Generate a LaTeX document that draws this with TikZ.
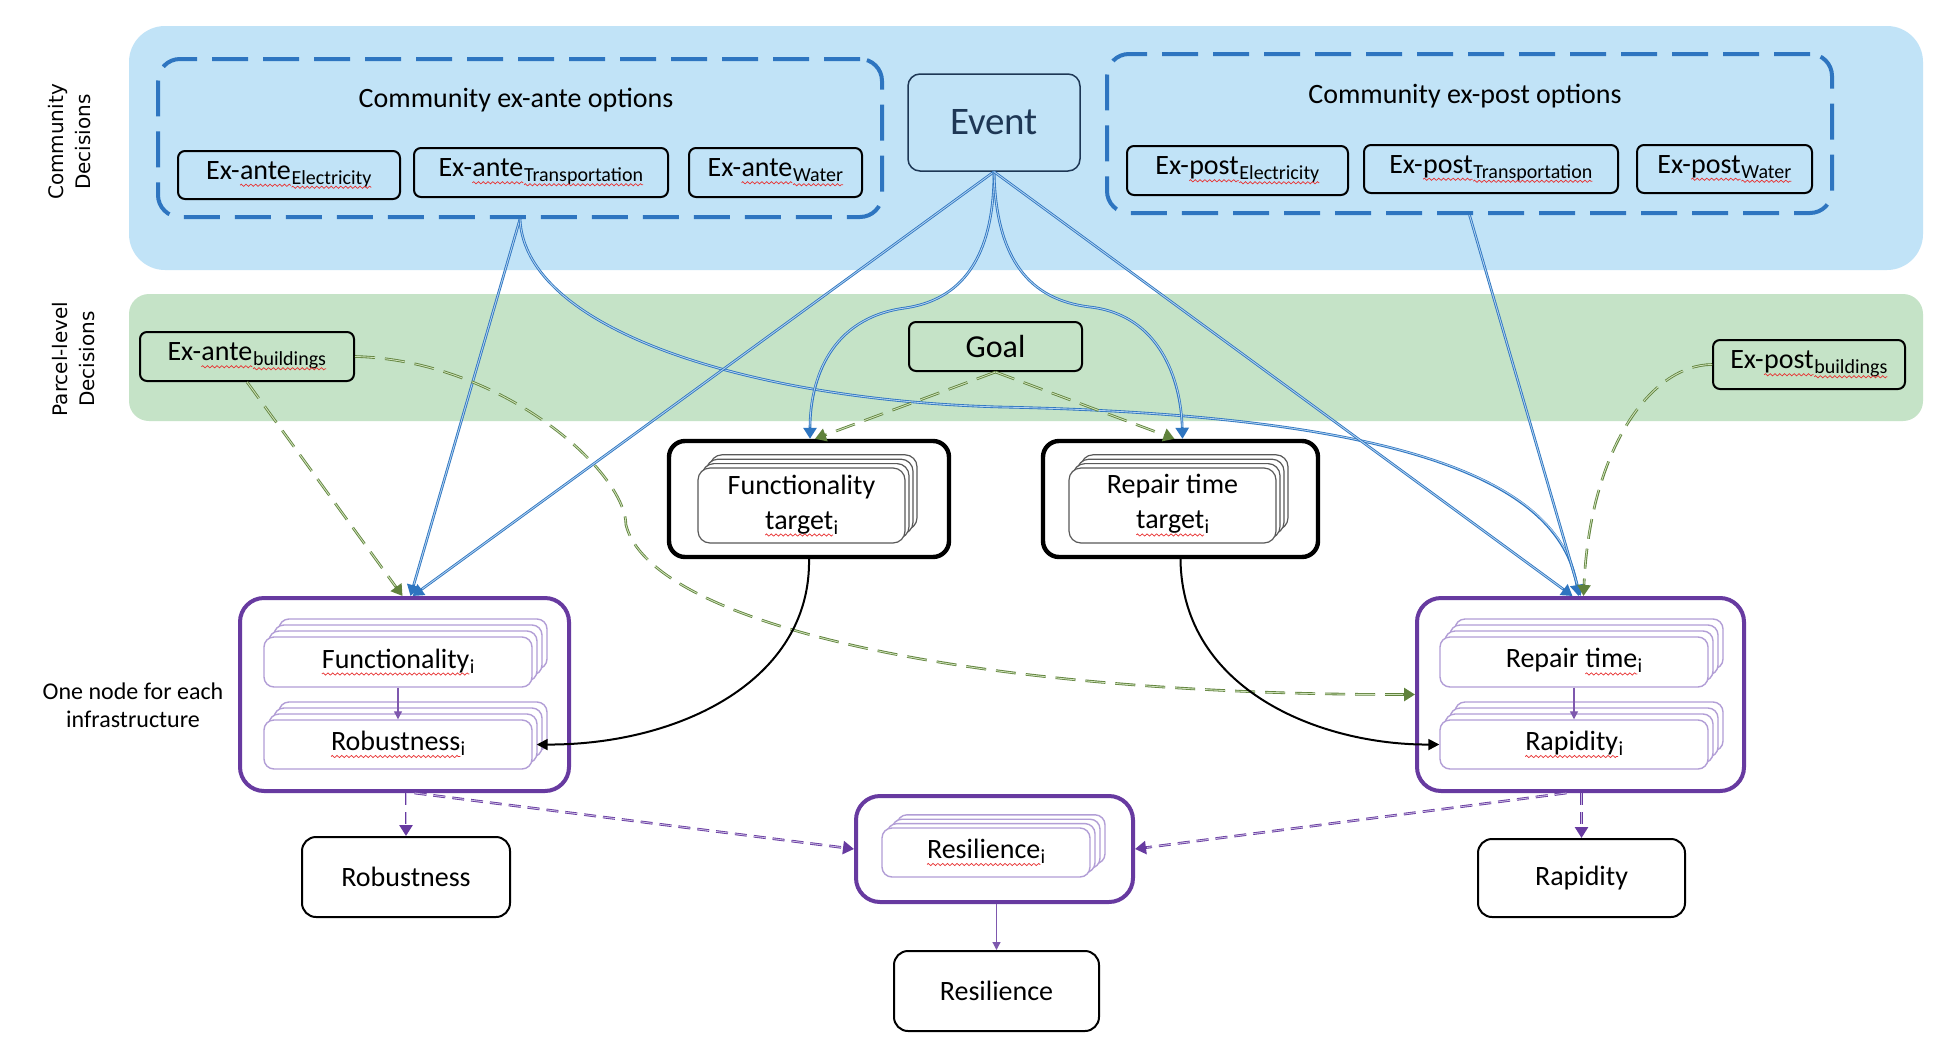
\documentclass[tikz,border=0pt]{standalone}
\usepackage{fontspec}
\setmainfont{Carlito}
\newfontfamily\sidefont{DejaVu Sans}
\usetikzlibrary{arrows.meta,decorations.pathmorphing}

\definecolor{bandblue}{RGB}{193,227,247}
\definecolor{bandgreen}{RGB}{197,227,199}
\definecolor{dashblue}{RGB}{46,117,192}
\definecolor{arrblue}{RGB}{46,117,192}
\definecolor{arrblueL}{RGB}{175,208,240}
\definecolor{arrgreen}{RGB}{96,130,60}
\definecolor{arrgreenL}{RGB}{205,225,185}
\definecolor{purp}{RGB}{103,58,160}
\definecolor{purpL}{RGB}{178,158,214}
\definecolor{navy}{RGB}{30,55,85}
\definecolor{squig}{RGB}{232,50,50}

\newcommand\sub[1]{\raisebox{-2.5pt}{\fontsize{10}{10}\selectfont #1}}
\newcommand\sq[2][3pt]{\tikz[baseline=(sqw.base)]{\node[inner sep=0pt,outer sep=0pt,minimum width=0pt,minimum height=0pt,draw=none,fill=none,rectangle,anchor=base,sharp corners] (sqw) at (0pt,0pt) {#2};\draw[squig,solid,sharp corners,line width=0.35pt,decorate,decoration={zigzag,amplitude=0.55pt,segment length=2.4pt}] ([yshift=-#1]sqw.base west) -- ([yshift=-#1]sqw.base east);}}

% #1 name, #2 centre, #3 width, #4 height, #5 dx, #6 dy, #7 style, #8 text
\newcommand\stacked[8]{%
 \node[#7,minimum width=#3,minimum height=#4,xshift={3*#5},yshift={3*#6}] (#1-3) at (#2) {};
 \node[#7,minimum width=#3,minimum height=#4,xshift={2*#5},yshift={2*#6}] (#1-2) at (#2) {};
 \node[#7,minimum width=#3,minimum height=#4,xshift={#5},yshift={#6}] (#1-1) at (#2) {};
 \node[#7,minimum width=#3,minimum height=#4] (#1) at (#2) {#8};
}

\begin{document}
\begin{tikzpicture}[x=0.5pt,y=-0.5pt,
 lbl/.style={inner sep=0pt,font=\fontsize{14}{17}\selectfont},
 optbox/.style={draw=black,line width=1pt,rounded corners=3.5pt,inner sep=0pt,font=\fontsize{14}{17}\selectfont},
 dashbox/.style={draw=dashblue,line width=2pt,rounded corners=11pt,dash pattern=on 18pt off 7.5pt,inner sep=0pt},
 tgtbox/.style={draw=black,line width=2.2pt,rounded corners=8pt,fill=white,inner sep=0pt},
 tgtin/.style={draw=black!65,line width=0.6pt,rounded corners=6pt,fill=white,inner sep=0pt,align=center,font=\fontsize{14}{17.5}\selectfont},
 purpbox/.style={draw=purp,line width=2pt,rounded corners=12pt,fill=white,inner sep=0pt},
 purpin/.style={draw=purpL,line width=0.7pt,rounded corners=5pt,fill=white,inner sep=0pt,font=\fontsize{14}{17}\selectfont},
 resbox/.style={draw=black,line width=1pt,rounded corners=7pt,fill=white,inner sep=0pt,font=\fontsize{14}{17}\selectfont},
 sidelbl/.style={rotate=90,align=center,inner sep=0pt,font=\sidefont\fontsize{10}{13.5}\selectfont},
 bluearr/.style={draw=arrblue,line width=1.3pt,-{Triangle[length=5.5pt,width=6.5pt]},postaction={draw=arrblueL,line width=0.45pt,-,shorten >=6pt}},
 greenarr/.style={draw=arrgreen,line width=1.3pt,dash pattern=on 10pt off 5pt,-{Triangle[length=5.5pt,width=6.5pt]},postaction={draw=arrgreenL,line width=0.45pt,-,shorten >=6pt}},
 purparr/.style={draw=purp,line width=1.3pt,dash pattern=on 6pt off 3.5pt,-{Triangle[length=5.5pt,width=6.5pt]},postaction={draw=purpL!70!white,line width=0.45pt,-,shorten >=6pt}},
 blkarr/.style={draw=black,line width=1pt,-{Triangle[length=5.5pt,width=5.5pt]}},
 thinpurp/.style={draw=purp!85,line width=0.6pt,-{Triangle[length=4pt,width=4pt]}},
]
\useasboundingbox (0,0) rectangle (1944,1050);
\fill[white] (0,0) rectangle (1944,1050);
% bands
\fill[bandblue,rounded corners=18pt] (129,26) rectangle (1923,270);
\fill[bandgreen,rounded corners=10pt] (129,294) rectangle (1923,421);

% side labels
\node[sidelbl] (cdlab) at (70,142) {Community\\Decisions};
\node[sidelbl] (pdlab) at (74,359) {Parcel-level\\Decisions};
\node[lbl,align=center,font=\fontsize{12}{14}\selectfont] (note) at (133,705) {One node for each\\infrastructure};

% community ex-ante
\node[dashbox,minimum width=362pt,minimum height=79pt] (exante) at (520,138) {};
\node[lbl] (exantelbl) at (516,100) {Community ex-ante options};
\node[optbox,minimum width=111pt,minimum height=24pt] (eae) at (289,175) {Ex-\sq{ante}\sub{\sq[1.5pt]{Electricity}}};
\node[optbox,minimum width=127pt,minimum height=24.5pt] (eat) at (541,172.5) {Ex-\sq{ante}\sub{\sq[1.5pt]{Transportation}}};
\node[optbox,minimum width=86.5pt,minimum height=24.5pt] (eaw) at (775.5,172.5) {Ex-\sq{ante}\sub{\sq[1.5pt]{Water}}};

% event
\node[draw=navy,line width=0.75pt,fill=bandblue,rounded corners=6pt,minimum width=86pt,minimum height=48.5pt,inner sep=0pt,text=navy,font=\fontsize{19.5}{22}\selectfont] (event) at (994,122.5) {Event};

% community ex-post
\node[dashbox,minimum width=362.5pt,minimum height=79.5pt] (expost) at (1469.5,133.5) {};
\node[lbl] (expostlbl) at (1465,96) {Community ex-post options};
\node[optbox,minimum width=110.5pt,minimum height=24.5pt] (epe) at (1237.5,170.5) {Ex-\sq{post}\sub{\sq[1.5pt]{Electricity}}};
\node[optbox,minimum width=127pt,minimum height=24pt] (ept) at (1491,169) {Ex-\sq{post}\sub{\sq[1.5pt]{Transportation}}};
\node[optbox,minimum width=87.5pt,minimum height=24pt] (epw) at (1724.5,169) {Ex-\sq{post}\sub{\sq[1.5pt]{Water}}};

% parcel level
\node[optbox,minimum width=86.5pt,minimum height=24.5pt,font=\fontsize{16}{19}\selectfont] (goal) at (995.5,346.5) {Goal};
\node[optbox,minimum width=107pt,minimum height=24.5pt] (eab) at (247,356.5) {Ex-\sq{ante}\sub{\sq[1.5pt]{buildings}}};
\node[optbox,minimum width=96pt,minimum height=24.5pt] (epb) at (1809,364.5) {Ex-\sq{post}\sub{\sq[1.5pt]{buildings}}};

% targets
\node[tgtbox,minimum width=140pt,minimum height=58pt] (ft) at (809,499) {};
\stacked{fti}{801.5,505.5}{103.5pt}{37.5pt}{2pt}{2.2pt}{tgtin}{Functionality\\\sq{target}\sub{i}}
\node[tgtbox,minimum width=137.5pt,minimum height=58pt] (rt) at (1180.5,499) {};
\stacked{rti}{1172.5,505.5}{103.5pt}{37.5pt}{2pt}{2.2pt}{tgtin}{Repair time\\\sq{target}\sub{i}}

% infrastructure nodes
\node[purpbox,minimum width=164.5pt,minimum height=96.5pt] (lp) at (404.5,694.5) {};
\stacked{funci}{398,662}{134pt}{25pt}{2.5pt}{3pt}{purpin}{\sq{Functionality}\sub{i}}
\stacked{robi}{398,744.5}{134pt}{24.5pt}{2.5pt}{3pt}{purpin}{\sq{Robustness}\sub{i}}
\node[purpbox,minimum width=163.5pt,minimum height=96.5pt] (rp) at (1580.5,694.5) {};
\stacked{repi}{1574,662}{134pt}{25pt}{2.5pt}{3pt}{purpin}{Repair \sq{time}\sub{i}}
\stacked{rapi}{1574,744.5}{134pt}{24.5pt}{2.5pt}{3pt}{purpin}{\sq{Rapidity}\sub{i}}
\node[purpbox,minimum width=138.5pt,minimum height=53pt] (resi) at (994.5,849) {};
\stacked{resii}{986,852.5}{104pt}{24.5pt}{2.5pt}{2.2pt}{purpin}{\sq{Resilience}\sub{i}}

% results
\node[resbox,minimum width=104pt,minimum height=40pt] (robust) at (406,877) {Robustness};
\node[resbox,minimum width=103.5pt,minimum height=39pt] (rapid) at (1581.5,878) {Rapidity};
\node[resbox,minimum width=102.5pt,minimum height=40pt] (resil) at (996.5,991) {Resilience};

% blue connectors
\draw[bluearr] (exante.south) -- ([xshift=3pt]lp.north);
\draw[bluearr] (exante.south) .. controls (525,330) and (750,400) .. (1000,407) .. controls (1400,415) and (1560,480) .. ([xshift=-1pt]rp.north);
\draw[bluearr] (event.south) -- ([xshift=4pt]lp.north);
\draw[bluearr] (event.south) .. controls (994,260) and (960,300) .. (905,308) .. controls (830,318) and (810,380) .. ([xshift=0.5pt]ft.north);
\draw[bluearr] (event.south) .. controls (996,260) and (1030,300) .. (1090,307) .. controls (1160,315) and (1181,380) .. ([xshift=1pt]rt.north);
\draw[bluearr] (event.south) -- ([xshift=-4pt]rp.north);
\draw[bluearr] (expost.south) -- (rp.north);

% green connectors
\draw[greenarr] (goal.south) -- ([xshift=3pt]ft.north);
\draw[greenarr] (goal.south) -- ([xshift=-3pt]rt.north);
\draw[greenarr] (eab.south) -- ([xshift=-1pt]lp.north);
\draw[greenarr] (eab.east) .. controls (500,360) and (625,470) .. (626,525) .. controls (650,620) and (950,695) .. (rp.west);
\draw[greenarr] (epb.west) .. controls (1650,365) and (1590,450) .. ([xshift=1.5pt]rp.north);

% black connectors
\draw[blkarr] (ft.south) .. controls (811,680) and (680,745) .. ([xshift=2pt]robi.east);
\draw[blkarr] (rt.south) .. controls (1182,690) and (1320,745) .. (rapi.west);

% inner purple
\draw[thinpurp] (funci.south) -- (robi.north);
\draw[thinpurp] (repi.south) -- (rapi.north);
\draw[thinpurp] (resi.south -| resil.north) -- (resil.north);

% purple dashed
\draw[purparr] (lp.south -| robust.north) -- (robust.north);
\draw[purparr] ([xshift=5pt]lp.south) -- (resi.west);
\draw[purparr] (rp.south -| rapid.north) -- (rapid.north);
\draw[purparr] ([xshift=-7pt]rp.south) -- (resi.east);
\end{tikzpicture}
\end{document}
